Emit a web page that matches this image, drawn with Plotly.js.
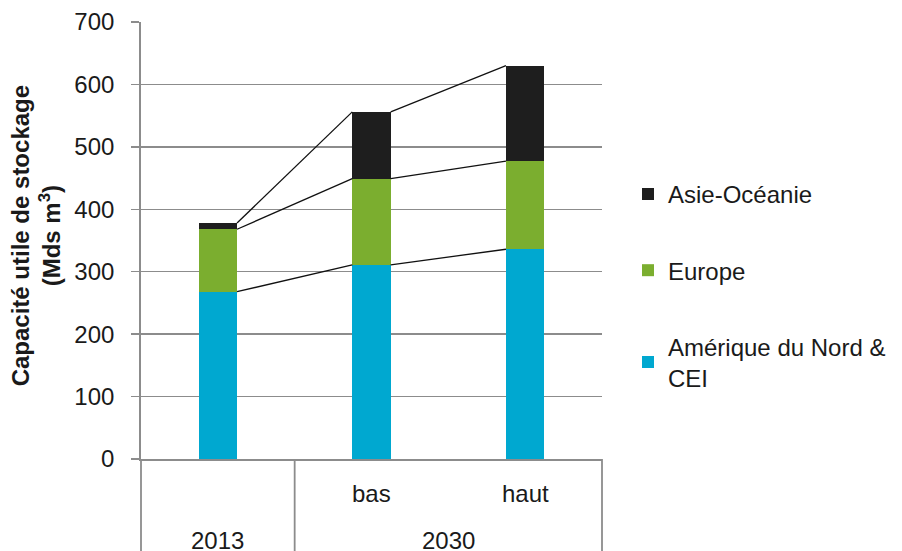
<!DOCTYPE html>
<html>
<head>
<meta charset="utf-8">
<script src="https://cdn.plot.ly/plotly-3.0.1.min.js"></script>
<style>html,body{margin:0;padding:0;background:#fff;}#chart{width:902px;height:551px;}</style>
</head>
<body>
<div id="chart"></div>
<script>
// Data
const subCategories = ["", "bas", "haut"];
const groupLabels = ["2013", "2030"];
const groupOf = [0, 1, 1];
const amerique = [268, 311, 336];
const europe = [100, 138, 141];
const asie = [10, 107, 153];
const seriesNames = ["Amérique du Nord &<br>CEI", "Europe", "Asie-Océanie"];
const seriesColors = ["#00A8D0", "#7BAE2F", "#1E1E1E"];
const legendRanks = [3, 2, 1];
const yTitle = "<b>Capacité utile de stockage<br>(Mds m<sup>3</sup>)</b>";

const xs = subCategories.map((_, i) => i);
const barW = 0.25;
const series = [amerique, europe, asie];

const traces = [];
series.forEach((vals, s) => {
  traces.push({
    type: "bar", x: xs, y: vals, width: barW, name: seriesNames[s],
    legendgroup: "g" + s, legendrank: legendRanks[s],
    marker: {color: seriesColors[s], line: {width: 0}},
    hoverinfo: "y"
  });
});

// Series lines connecting the top of each segment between adjacent bars
let cum = xs.map(() => 0);
series.forEach((vals) => {
  cum = cum.map((c, i) => c + vals[i]);
  const lx = [], ly = [];
  for (let i = 0; i < xs.length - 1; i++) {
    lx.push(xs[i] + barW / 2, xs[i + 1] - barW / 2, null);
    ly.push(cum[i], cum[i + 1], null);
  }
  traces.push({type: "scatter", mode: "lines", x: lx, y: ly, showlegend: false,
    line: {color: "#111", width: 1.3}, hoverinfo: "skip"});
});

const xmin = -0.5, xmax = xs.length - 0.5;
const toPaper = v => (v - xmin) / (xmax - xmin);
const gray = "#8c8c8c";
const fontCol = "#1a1a1a";
const fs = 24;

const shapes = [];
// vertical dividers in category axis area
const dividers = [xmin];
for (let i = 1; i < xs.length; i++) if (groupOf[i] !== groupOf[i - 1]) dividers.push(i - 0.5);
dividers.push(xmax);
dividers.forEach(d => shapes.push({type: "line", xref: "paper", yref: "paper",
  x0: toPaper(d), x1: toPaper(d), y0: 0, y1: -0.22, line: {color: gray, width: 1.8}, layer: "below"}));

const annotations = [];
xs.forEach((x, i) => {
  if (subCategories[i]) annotations.push({xref: "x", yref: "paper", x: x, y: -0.078,
    text: subCategories[i], showarrow: false, font: {size: fs, color: fontCol}, yanchor: "middle"});
});
groupLabels.forEach((g, gi) => {
  const idx = xs.filter((_, i) => groupOf[i] === gi);
  const cx = (idx[0] + idx[idx.length - 1]) / 2;
  annotations.push({xref: "x", yref: "paper", x: cx, y: -0.186, text: g, showarrow: false,
    font: {size: fs, color: fontCol}, yanchor: "middle"});
});
// y-axis title
annotations.push({xref: "paper", yref: "paper", x: -105 / 462, y: 0.51, textangle: -90,
  text: yTitle, showarrow: false, xanchor: "center", yanchor: "middle",
  font: {size: fs, color: fontCol}});

const layout = {
  width: 902, height: 551,
  margin: {l: 141, r: 299, t: 22, b: 92},
  paper_bgcolor: "#fff", plot_bgcolor: "#fff",
  font: {family: "Liberation Sans, Arial, sans-serif", size: fs, color: fontCol},
  barmode: "stack",
  showlegend: true,
  legend: {x: 1 + 25 / 462, xanchor: "left", y: 0.657, yanchor: "top",
    traceorder: "grouped", tracegroupgap: 42,
    font: {size: fs, color: fontCol}, itemwidth: 30, bgcolor: "rgba(0,0,0,0)"},
  xaxis: {range: [xmin, xmax], showticklabels: false, ticks: "", showgrid: false,
    zeroline: false, showline: true, linecolor: gray, linewidth: 2, fixedrange: true},
  yaxis: {range: [0, 700], dtick: 100, tick0: 0, showgrid: true, gridcolor: gray, gridwidth: 1.5,
    zeroline: false, showline: true, linecolor: gray, linewidth: 1.8,
    ticks: "outside", ticklen: 8, tickcolor: gray, tickwidth: 1.5, ticklabelstandoff: 12,
    tickfont: {size: fs, color: fontCol}},
  shapes: shapes,
  annotations: annotations
};

Plotly.newPlot("chart", traces, layout, {displayModeBar: false, staticPlot: true});
</script>
</body>
</html>
